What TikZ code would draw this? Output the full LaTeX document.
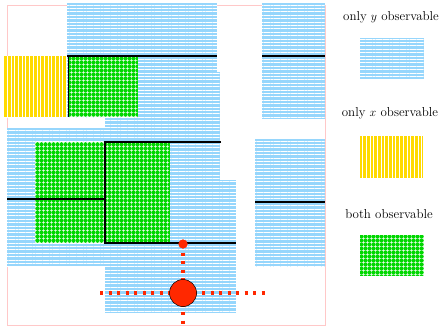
\documentclass[tikz,border=0pt]{standalone}
\usepackage{amsmath}
\usetikzlibrary{patterns.meta,positioning}

\definecolor{obsblue}{RGB}{150,214,252}
\definecolor{obsyellow}{RGB}{255,218,0}
\definecolor{obsgreen}{RGB}{0,215,0}
\definecolor{robotred}{RGB}{255,40,0}
\definecolor{framepink}{RGB}{255,200,200}

\tikzset{
  yobs/.style={fill=obsblue, postaction={pattern={Lines[angle=0,distance=3.4bp,line width=0.9bp]}, pattern color=white}},
  xobs/.style={fill=obsyellow, postaction={pattern={Lines[angle=90,distance=3.7bp,line width=1bp]}, pattern color=white}},
  bothobs/.style={fill=obsgreen, postaction={pattern={Hatch[angle=0,distance=3.6bp,line width=0.7bp]}, pattern color=white}},
  wall/.style={line width=1.3bp, black},
  scan/.style={robotred, line width=3.3bp, dash pattern=on 3.3bp off 5.2bp},
  robot/.style={circle, fill=robotred, draw=black, line width=0.5bp, minimum size=27bp, inner sep=0pt},
  tip/.style={circle, fill=robotred, minimum size=9bp, inner sep=0pt},
  legend/.style={font=\fontsize{13}{15}\selectfont, anchor=center}
}

\begin{document}
\begin{tikzpicture}[x=1bp, y=-1bp]
  \useasboundingbox (0,0) rectangle (441,328);
  % Frame
  \draw[framepink, line width=0.8bp] (7,5) rectangle (325,325);

  % Regions where only y is observable
  \path[yobs] (67,3) rectangle (217,118);
  \path[yobs] (105,72) rectangle (220,180);
  \path[yobs] (7,128) rectangle (220,266);
  \path[yobs] (105,180) rectangle (236,313);
  \path[yobs] (262,3) rectangle (325,119);
  \path[yobs] (255,139) rectangle (325,267);

  % Only x, and both
  \path[xobs] (3,56) rectangle (67,117);
  \path[bothobs] (68,56) rectangle (138,117);
  \path[bothobs] (35,142) rectangle (170,243);

  % Walls
  \draw[wall] (67,56) -- (217,56);
  \draw[black, line width=0.6bp] (68,56) -- (68,117);
  \draw[wall] (221,142) -- (105,142) -- (105,243) -- (236,243);
  \draw[wall] (7,199) -- (105,199);
  \draw[wall] (262,56) -- (325,56);
  \draw[wall] (255,202) -- (325,202);

  % Robot
  \coordinate (scanW) at (100,293);
  \coordinate (scanE) at (268,293);
  \coordinate (scanS) at (183,328);
  \node[tip] (target) at (183,244) {};
  \draw[scan] (target.center) -- (scanS);
  \draw[scan] (scanW) -- (scanE);
  \node[robot] (robot) at (183,293) {};
  \node[tip] at (target) {};

  % Legend
  \node[legend] (ylabel) at (391,17) {only \(y\) observable};
  \path[yobs] (360,38) rectangle (424,79);
  \node[legend] (xlabel) at (390,113) {only \(x\) observable};
  \path[xobs] (360,136) rectangle (423,178);
  \node[legend] (bothlabel) at (389,214) {both observable};
  \path[bothobs] (360,235) rectangle (424,276);
\end{tikzpicture}
\end{document}
